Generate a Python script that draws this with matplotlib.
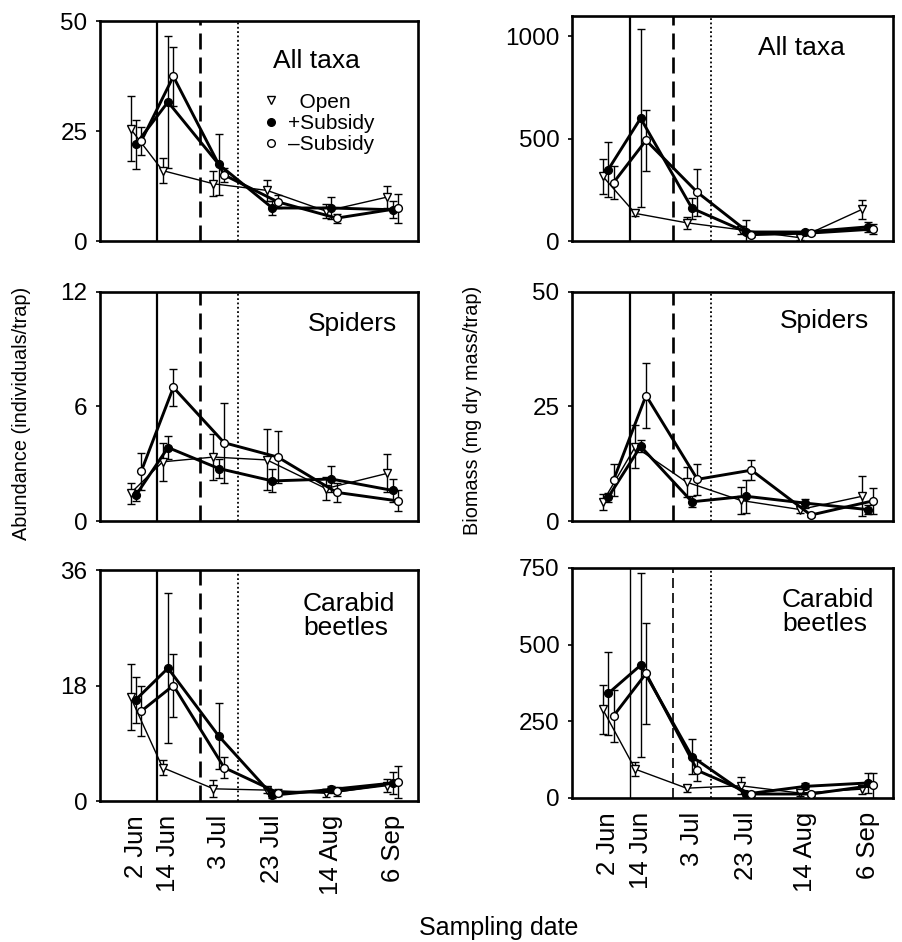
# recreate: arthropod abundance / biomass time series, 3x2 panels
import numpy as np
import pandas as pd
import matplotlib
matplotlib.use("Agg")
import matplotlib.pyplot as plt
from matplotlib.lines import Line2D

plt.rcParams['font.family'] = ['Liberation Sans', 'DejaVu Sans']

# sampling dates (x axis)
date_labels = ['2 Jun', '14 Jun', '3 Jul', '23 Jul', '14 Aug', '6 Sep']
date_iso = ['2001-06-02', '2001-06-14', '2001-07-03', '2001-07-23',
            '2001-08-14', '2001-09-06']
# event markers: solid, dashed, dotted vertical lines
event_iso = ['2001-06-10', '2001-06-26', '2001-07-10']

series_names = ['  Open', '+Subsidy', '\u2013Subsidy']

# abundance, all taxa
ab_all_open = [25.5, 16.0, 13.0, 11.5, 6.8, 10.0]
ab_all_open_se = [7.4, 2.8, 2.8, 2.3, 1.5, 2.5]
ab_all_plus = [22.0, 31.6, 17.4, 7.5, 7.5, 7.1]
ab_all_plus_se = [5.6, 15.0, 7.0, 1.5, 2.4, 1.9]
ab_all_minus = [22.7, 37.4, 15.0, 8.9, 5.2, 7.4]
ab_all_minus_se = [3.2, 6.7, 1.5, 1.5, 1.0, 3.2]

# biomass, all taxa
bm_all_open = [316, 135, 89, 55, 16, 155]
bm_all_open_se = [85, 15, 30, 20, 10, 45]
bm_all_plus = [349, 600, 160, 44, 44, 69]
bm_all_plus_se = [135, 436, 50, 58, 10, 25]
bm_all_minus = [286, 492, 238, 31, 39, 58]
bm_all_minus_se = [80, 148, 116, 10, 10, 25]

# abundance, spiders
ab_sp_open = [1.45, 3.1, 3.35, 3.2, 1.7, 2.5]
ab_sp_open_se = [0.55, 1.0, 1.2, 1.6, 0.6, 1.0]
ab_sp_plus = [1.35, 3.85, 2.75, 2.1, 2.2, 1.6]
ab_sp_plus_se = [0.3, 0.6, 0.5, 0.6, 0.7, 0.6]
ab_sp_minus = [2.6, 7.0, 4.1, 3.35, 1.5, 1.05]
ab_sp_minus_se = [0.95, 0.95, 2.1, 1.35, 0.5, 0.55]

# biomass, spiders
bm_sp_open = [4.2, 16.2, 8.5, 4.5, 2.5, 5.4]
bm_sp_open_se = [1.8, 4.7, 3.3, 3.0, 0.8, 4.4]
bm_sp_plus = [5.2, 16.3, 4.2, 5.4, 3.9, 2.5]
bm_sp_plus_se = [1.0, 1.3, 1.2, 3.6, 1.0, 1.0]
bm_sp_minus = [9.0, 27.4, 9.1, 11.1, 1.3, 4.4]
bm_sp_minus_se = [3.5, 7.0, 3.4, 2.2, 0.5, 2.9]

# abundance, carabid beetles
ab_cb_open = [16.2, 5.2, 1.9, 1.7, 1.2, 2.4]
ab_cb_open_se = [5.2, 1.2, 1.3, 0.4, 0.6, 1.0]
ab_cb_plus = [15.8, 20.7, 10.1, 0.9, 1.8, 2.8]
ab_cb_plus_se = [3.6, 11.7, 5.1, 0.4, 0.6, 1.7]
ab_cb_minus = [14.0, 18.0, 5.2, 1.3, 1.5, 2.9]
ab_cb_minus_se = [3.9, 4.9, 1.6, 0.5, 0.7, 2.5]

# biomass, carabid beetles
bm_cb_open = [289, 94, 32, 40, 16, 29]
bm_cb_open_se = [79, 22, 12, 28, 8, 15]
bm_cb_plus = [341, 433, 135, 13, 38, 49]
bm_cb_plus_se = [135, 300, 58, 8, 10, 32]
bm_cb_minus = [268, 406, 90, 13, 13, 41]
bm_cb_minus_se = [84, 165, 35, 8, 8, 40]

days = pd.to_datetime(date_iso).dayofyear.values.astype(float)
events = pd.to_datetime(event_iso).dayofyear.values.astype(float)

W, H = 902, 942


def px_axes(fig, left, top, right, bottom):
    """ add axes given pixel box (top-left origin) """
    return fig.add_axes([left / W, 1 - bottom / H,
                         (right - left) / W, (bottom - top) / H])


def panel(ax, data, ymax, yticks, label, lab_xy, event_lw=1.6,
          show_dates=False, legend=False):
    """ draw one panel: three series with error bars and event lines """

    # event lines
    ax.axvline(events[0], color='black', lw=event_lw, zorder=1)
    ax.axvline(events[1], color='black', lw=event_lw * 1.2,
               ls=(0, (6, 3)), zorder=1)
    ax.axvline(events[2], color='black', lw=1.3, ls=(0, (1, 1.4)), zorder=1)

    styles = [dict(marker='v', mfc='white', lw=1.0, dx=-2.0),
              dict(marker='o', mfc='black', lw=2.1, dx=0.0),
              dict(marker='o', mfc='white', lw=2.1, dx=2.0)]

    for (mean, se), st, name in zip(data, styles, series_names):
        ax.errorbar(days + st['dx'], mean, yerr=se, color='black',
                    lw=st['lw'], marker=st['marker'], mfc=st['mfc'],
                    mec='black', mew=1.0, ms=5.6, elinewidth=1.0,
                    capsize=3, capthick=1.0, zorder=3, label=name)

    ax.set_xlim(139.6, 258.4)
    ax.set_ylim(0, ymax)
    ax.set_yticks(yticks)
    ax.tick_params(axis='y', direction='out', length=3, width=1.2,
                   labelsize=17.5, pad=6)
    ax.set_xticks(days)
    if show_dates:
        ax.set_xticklabels(date_labels, rotation=90, va='top', ha='center')
        ax.tick_params(axis='x', length=0, labelsize=18.5, pad=10)
    else:
        ax.tick_params(axis='x', length=0, labelbottom=False)

    for sp in ax.spines.values():
        sp.set_linewidth(1.9)

    ax.text(lab_xy[0], lab_xy[1], label, transform=ax.transAxes,
            fontsize=19, ha='left', va='center', linespacing=1.0)

    if legend:
        handles = [Line2D([], [], ls='none', marker='v', mfc='white',
                          mec='black', ms=5.5),
                   Line2D([], [], ls='none', marker='o', mfc='black',
                          mec='black', ms=5.5),
                   Line2D([], [], ls='none', marker='o', mfc='white',
                          mec='black', ms=5.5)]
        ax.legend(handles, series_names, loc='upper left',
                  bbox_to_anchor=(0.51, 0.675), frameon=False, fontsize=15,
                  handlelength=0.8, handletextpad=0.45, labelspacing=0.12,
                  borderpad=0, borderaxespad=0)


fig = plt.figure(figsize=(W / 100, H / 100), dpi=100)

ax1 = px_axes(fig, 100, 21, 418, 241)
panel(ax1, [(ab_all_open, ab_all_open_se), (ab_all_plus, ab_all_plus_se),
            (ab_all_minus, ab_all_minus_se)],
      50, [0, 25, 50], 'All taxa', (0.544, 0.82), legend=True)

ax2 = px_axes(fig, 572, 16, 893, 241)
panel(ax2, [(bm_all_open, bm_all_open_se), (bm_all_plus, bm_all_plus_se),
            (bm_all_minus, bm_all_minus_se)],
      1100, [0, 500, 1000], 'All taxa', (0.579, 0.858))

ax3 = px_axes(fig, 100, 292, 418, 521)
panel(ax3, [(ab_sp_open, ab_sp_open_se), (ab_sp_plus, ab_sp_plus_se),
            (ab_sp_minus, ab_sp_minus_se)],
      12, [0, 6, 12], 'Spiders', (0.654, 0.86))

ax4 = px_axes(fig, 572, 292, 893, 521)
panel(ax4, [(bm_sp_open, bm_sp_open_se), (bm_sp_plus, bm_sp_plus_se),
            (bm_sp_minus, bm_sp_minus_se)],
      50, [0, 25, 50], 'Spiders', (0.648, 0.875))

ax5 = px_axes(fig, 100, 570, 418, 801)
panel(ax5, [(ab_cb_open, ab_cb_open_se), (ab_cb_plus, ab_cb_plus_se),
            (ab_cb_minus, ab_cb_minus_se)],
      36, [0, 18, 36], 'Carabid\nbeetles', (0.638, 0.80), show_dates=True)

ax6 = px_axes(fig, 572, 568, 893, 798)
panel(ax6, [(bm_cb_open, bm_cb_open_se), (bm_cb_plus, bm_cb_plus_se),
            (bm_cb_minus, bm_cb_minus_se)],
      750, [0, 250, 500, 750], 'Carabid\nbeetles', (0.654, 0.81),
      event_lw=1.0, show_dates=True)

# axis titles
fig.text(22 / W, 1 - 413 / H, 'Abundance (individuals/trap)', rotation=90,
         ha='center', va='center', fontsize=14.3)
fig.text(473 / W, 1 - 410 / H, 'Biomass (mg dry mass/trap)', rotation=90,
         ha='center', va='center', fontsize=14.3)
fig.text(499 / W, 1 - 928 / H, 'Sampling date', ha='center', va='center',
         fontsize=18)

fig.savefig('out.png', dpi=100)
